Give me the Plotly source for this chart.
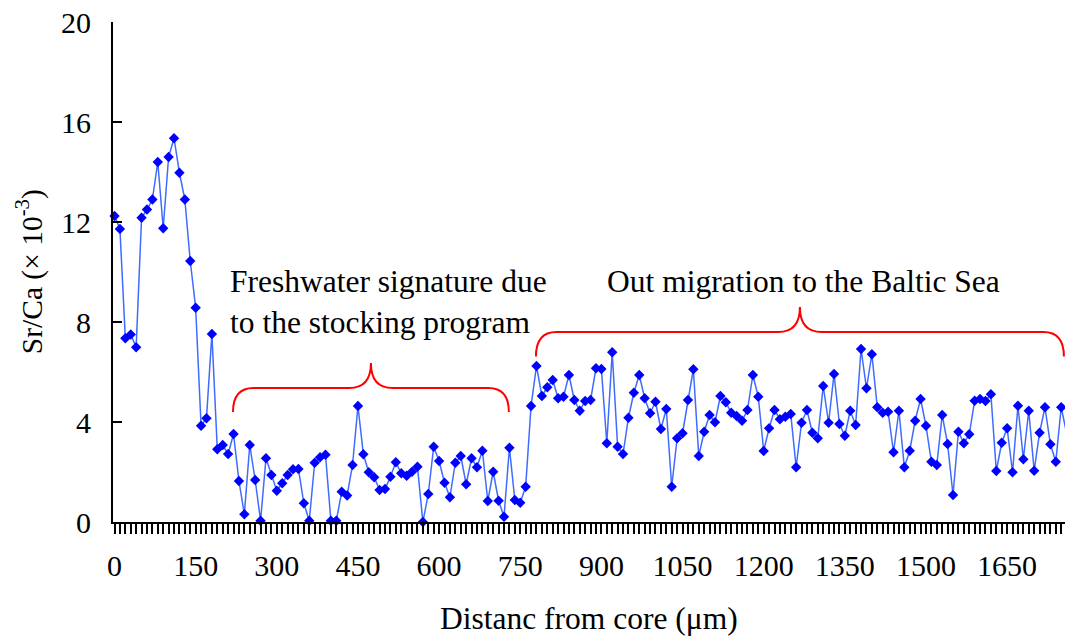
import plotly.graph_objects as go

# Sampling positions along the transect (µm from core), 10 µm step
distance_um = list(range(0, 1770, 10))

# Sr/Ca ratio (× 10^-3) at each position
sr_ca = [
    12.24, 11.72, 7.35, 7.50, 6.99, 12.17, 12.50, 12.90, 14.40, 11.75,
    14.60, 15.35, 13.97, 12.90, 10.44, 8.57, 3.85, 4.15, 7.52, 2.91,
    3.08, 2.72, 3.52, 1.64, 0.31, 3.08, 1.68, 0.05, 2.55, 1.88,
    1.25, 1.55, 1.88, 2.11, 2.12, 0.75, 0.05, 2.37, 2.59, 2.69,
    0.05, 0.05, 1.21, 1.06, 2.28, 4.64, 2.71, 1.99, 1.79, 1.28,
    1.32, 1.81, 2.39, 1.95, 1.85, 2.01, 2.21, 0.00, 1.12, 3.01,
    2.44, 1.57, 0.99, 2.37, 2.64, 1.51, 2.55, 2.19, 2.85, 0.84,
    2.01, 0.85, 0.21, 2.97, 0.88, 0.77, 1.41, 4.64, 6.24, 5.04,
    5.39, 5.68, 4.95, 5.01, 5.88, 4.88, 4.45, 4.84, 4.88, 6.15,
    6.12, 3.15, 6.79, 3.01, 2.72, 4.17, 5.17, 5.88, 4.95, 4.35,
    4.81, 3.72, 4.52, 1.41, 3.35, 3.55, 4.88, 6.11, 2.64, 3.61,
    4.28, 3.99, 5.04, 4.79, 4.37, 4.24, 4.05, 4.48, 5.88, 5.01,
    2.84, 3.75, 4.48, 4.11, 4.21, 4.32, 2.19, 3.97, 4.48, 3.57,
    3.35, 5.44, 3.97, 5.92, 3.92, 3.45, 4.45, 3.88, 6.92, 5.35,
    6.71, 4.59, 4.37, 4.41, 2.79, 4.45, 2.19, 2.85, 4.05, 4.92,
    3.85, 2.41, 2.28, 4.28, 3.12, 1.08, 3.61, 3.15, 3.51, 4.85,
    4.92, 4.84, 5.11, 2.04, 3.17, 3.75, 1.99, 4.65, 2.51, 4.45,
    2.05, 3.57, 4.59, 3.11, 2.41, 4.59, 3.55,
]

x_tick_vals = [0, 150, 300, 450, 600, 750, 900, 1050, 1200, 1350, 1500, 1650]
x_tick_text = [str(v) for v in x_tick_vals]
y_tick_vals = [0, 4, 8, 12, 16, 20]

# Braces: (left end, peak, right end) in µm; (end height, bar height, peak height)
brace_fresh = dict(x0=219, xm=474, x1=729, y_end=4.4, y_bar=5.36, y_peak=6.36)
brace_baltic = dict(x0=779, xm=1267, x1=1755, y_end=6.62, y_bar=7.6, y_peak=8.6)

FONT = "Liberation Serif, Times New Roman, serif"
TICK_SIZE = 30
TEXT_SIZE = 31.5

fig = go.Figure()
fig.add_trace(go.Scatter(
    x=distance_um, y=sr_ca, mode="lines+markers",
    line=dict(color="#3F6BFF", width=1.5),
    marker=dict(symbol="diamond", size=8, color="#0000FF"),
    cliponaxis=False, showlegend=False,
))


def brace_path(b, rx=38, rc=40):
    """Curly brace opening downward, corners rounded, cusp at the middle."""
    x0, xm, x1 = b["x0"], b["xm"], b["x1"]
    ye, yb, yp = b["y_end"], b["y_bar"], b["y_peak"]
    return (
        f"M {x0},{ye} Q {x0},{yb} {x0 + rx},{yb} "
        f"L {xm - rc},{yb} Q {xm},{yb} {xm},{yp} "
        f"Q {xm},{yb} {xm + rc},{yb} "
        f"L {x1 - rx},{yb} Q {x1},{yb} {x1},{ye}"
    )


for b in (brace_fresh, brace_baltic):
    fig.add_shape(type="path", path=brace_path(b), xref="x", yref="y",
                  line=dict(color="#FF0000", width=2))

fig.add_annotation(text="Freshwater signature due", x=210, y=9.64,
                   xref="x", yref="y", xanchor="left", yanchor="middle",
                   showarrow=False, font=dict(family=FONT, size=TEXT_SIZE, color="black"))
fig.add_annotation(text="to the stocking program", x=210, y=8.0,
                   xref="x", yref="y", xanchor="left", yanchor="middle",
                   showarrow=False, font=dict(family=FONT, size=TEXT_SIZE, color="black"))
fig.add_annotation(text="Out migration to the Baltic Sea", x=1274, y=9.62,
                   xref="x", yref="y", xanchor="center", yanchor="middle",
                   showarrow=False, font=dict(family=FONT, size=TEXT_SIZE, color="black"))

# Axis titles
fig.add_annotation(text="Sr/Ca (× 10<sup>-3</sup>)", x=-0.088, y=0.5,
                   xref="paper", yref="paper", textangle=-90,
                   xanchor="center", yanchor="middle", showarrow=False,
                   font=dict(family=FONT, size=TEXT_SIZE - 2, color="black"))
fig.add_annotation(text="Distanc from core (μm)", x=0.5, y=-0.192,
                   xref="paper", yref="paper",
                   xanchor="center", yanchor="middle", showarrow=False,
                   font=dict(family=FONT, size=TEXT_SIZE, color="black"))

fig.update_layout(
    width=1065, height=637,
    margin=dict(l=113, r=0, t=22, b=115),
    paper_bgcolor="white", plot_bgcolor="white",
    font=dict(family=FONT, size=TICK_SIZE, color="black"),
    xaxis=dict(
        range=[-2.8, 1757], showgrid=False, zeroline=False,
        showline=True, linecolor="black", linewidth=2,
        tickmode="array", tickvals=x_tick_vals, ticktext=x_tick_text,
        ticks="outside", ticklen=10, tickwidth=2, tickcolor="black",
        minor=dict(dtick=10, tick0=0, ticks="outside", ticklen=10,
                   tickwidth=2, tickcolor="black", showgrid=False),
        ticklabelstandoff=6,
        tickfont=dict(family=FONT, size=TICK_SIZE),
    ),
    yaxis=dict(
        range=[0, 20], showgrid=False, zeroline=False,
        showline=True, linecolor="black", linewidth=2,
        tickmode="array", tickvals=y_tick_vals,
        ticks="inside", ticklen=9, tickwidth=2, tickcolor="black",
        ticklabelstandoff=14,
        tickfont=dict(family=FONT, size=TICK_SIZE),
    ),
)

fig.write_html("out.html")
